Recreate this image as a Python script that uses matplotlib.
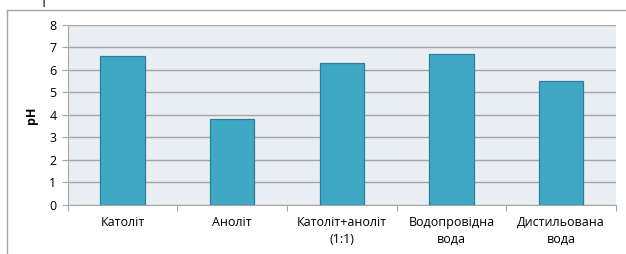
import matplotlib.pyplot as plt
from matplotlib.lines import Line2D
import numpy as np

plt.rcParams['font.family'] = ['Open Sans', 'DejaVu Sans']

categories = ['Католіт', 'Аноліт', 'Католіт+аноліт\n(1:1)', 'Водопровідна\nвода', 'Дистильована\nвода']
ph_values = [6.6, 3.8, 6.3, 6.7, 5.5]

fig = plt.figure(figsize=(6.26, 2.54), dpi=100)
ax = fig.add_axes([0.108, 0.193, 0.876, 0.709])

# outer frame (clipped at right and bottom)
fig.add_artist(Line2D([7 / 626, 1.0], [1 - 9.5 / 254] * 2, color='#A6A6A6', lw=1.0))
fig.add_artist(Line2D([7 / 626] * 2, [0.0, 1 - 9.5 / 254], color='#A6A6A6', lw=1.0))
fig.text(43 / 626, 1 - 3 / 254, '1', fontsize=12, ha='center', va='center', color='#222222')

x = np.arange(len(categories))
ax.set_facecolor('#E8EEF2')
ax.bar(x, ph_values, width=0.405, color='#3FA8C4', edgecolor='#2C7F96', linewidth=0.9, zorder=3)

ax.set_xlim(-0.5, len(categories) - 0.5)
ax.set_ylim(0, 8)
ax.set_yticks(range(0, 9))
ax.yaxis.grid(True, color='#A6A6A6', linewidth=1.0, zorder=0)
ax.set_axisbelow(True)

ax.set_xticks(np.arange(-0.5, len(categories), 1.0))
ax.set_xticklabels([])
ax.set_xticks(x, minor=True)
ax.set_xticklabels(categories, minor=True, fontsize=9, linespacing=1.35)
ax.tick_params(axis='x', which='minor', length=0, pad=8)
ax.tick_params(axis='x', which='major', length=4, color='#A6A6A6')
ax.tick_params(axis='y', length=4, color='#A6A6A6', labelsize=9, pad=4)

for side in ['top', 'right']:
    ax.spines[side].set_visible(False)
for side in ['left', 'bottom']:
    ax.spines[side].set_color('#A6A6A6')

ax.set_ylabel('pH', fontsize=9, fontweight='bold', labelpad=8)

fig.savefig('out.png', dpi=100)
